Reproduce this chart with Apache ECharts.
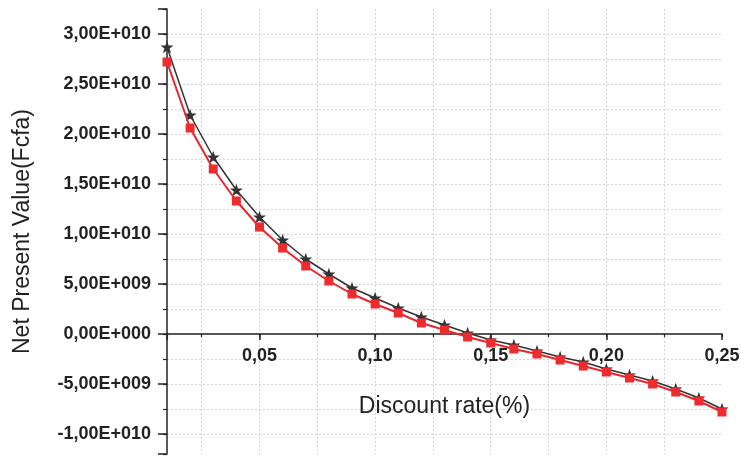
<!DOCTYPE html>
<html>
<head>
<meta charset="utf-8">
<script src="https://cdn.jsdelivr.net/npm/echarts@6/dist/echarts.min.js"></script>
<style>
html,body{margin:0;padding:0;background:#fff;}
#chart{width:741px;height:459px;}
</style>
</head>
<body>
<div id="chart"></div>
<script>
// Discount rates (x)
var discountRates = [0.01,0.02,0.03,0.04,0.05,0.06,0.07,0.08,0.09,0.10,0.11,0.12,0.13,0.14,0.15,0.16,0.17,0.18,0.19,0.20,0.21,0.22,0.23,0.24,0.25];
// Series 1 (dark, star markers)
var npvStar = [2.87e10,2.19e10,1.77e10,1.44e10,1.17e10,0.94e10,0.75e10,0.60e10,0.46e10,0.36e10,0.26e10,0.17e10,0.09e10,0.01e10,-0.06e10,-0.11e10,-0.17e10,-0.23e10,-0.28e10,-0.35e10,-0.41e10,-0.47e10,-0.55e10,-0.64e10,-0.75e10];
// Series 2 (red, square markers)
var npvSquare = [2.72e10,2.06e10,1.65e10,1.33e10,1.07e10,0.86e10,0.68e10,0.53e10,0.40e10,0.30e10,0.21e10,0.11e10,0.04e10,-0.03e10,-0.09e10,-0.15e10,-0.20e10,-0.26e10,-0.32e10,-0.38e10,-0.44e10,-0.50e10,-0.58e10,-0.67e10,-0.78e10];
// Axis settings
var xMin = 0.01, xMax = 0.25, xMajor = 0.05, xMinor = 0.025;
var yMin = -1.2e10, yMax = 3.25e10, yMajor = 5e9, yMinor = 2.5e9;
var xTitle = 'Discount rate(%)';
var yTitle = 'Net Present Value(Fcfa)';

function isMultiple(v, step) {
  var r = v / step;
  return Math.abs(r - Math.round(r)) < 1e-6;
}
function fmtX(v) {
  if (!isMultiple(v, xMajor)) return '';
  return v.toFixed(2).replace('.', ',');
}
function fmtY(v) {
  if (!isMultiple(v, yMajor)) return '';
  if (Math.abs(v) < 1) return '0,00E+000';
  var sign = v < 0 ? '-' : '';
  var a = Math.abs(v);
  var e = Math.floor(Math.log10(a) + 1e-9);
  var m = a / Math.pow(10, e);
  var es = String(e);
  while (es.length < 3) es = '0' + es;
  return sign + m.toFixed(2).replace('.', ',') + 'E+' + es;
}

var starPath = 'path://M50 0 L61.76 33.82 L97.55 34.55 L69.02 56.18 L79.39 90.45 L50 70 L20.61 90.45 L30.98 56.18 L2.45 34.55 L38.24 33.82 Z';

var starData = discountRates.map(function (x, i) { return [x, npvStar[i]]; });
var squareData = discountRates.map(function (x, i) { return [x, npvSquare[i]]; });

var FONT = '"Liberation Sans", Arial, sans-serif';
var INK = '#222';

var chart = echarts.init(document.getElementById('chart'), null, {renderer: 'canvas'});
var opt = {
  animation: false,
  backgroundColor: '#fff',
  grid: [
    // main plotting area
    {left: 167, right: 19, top: 9, bottom: 5, containLabel: false, outerBoundsMode: 'none'},
    // helper grid whose bottom edge sits on the zero line, carries the x axis
    {left: 167, right: 19, top: 9, bottom: 125, containLabel: false, outerBoundsMode: 'none'}
  ],
  xAxis: [{
    gridIndex: 0, type: 'value', min: xMin, max: xMax, minInterval: xMajor, maxInterval: xMajor,
    axisLine: {show: false}, axisTick: {show: false}, axisLabel: {show: false},
    splitLine: {show: true, showMinLine: false, showMaxLine: false, lineStyle: {color: '#b0b0b0', type: [2, 2], width: 1}}
  }, {
    gridIndex: 0, type: 'value', min: xMin, max: xMax, minInterval: xMinor, maxInterval: xMinor,
    axisLine: {show: false}, axisTick: {show: false}, axisLabel: {show: false},
    splitLine: {show: true, showMinLine: false, showMaxLine: false, lineStyle: {color: '#d4d4d4', type: [2, 2], width: 1}}
  }, {
    gridIndex: 1, type: 'value', min: xMin, max: xMax, minInterval: xMajor, maxInterval: xMajor,
    position: 'bottom',
    axisLine: {show: true, onZero: false, lineStyle: {color: INK, width: 1.5}},
    axisTick: {show: true, inside: false, length: 6, lineStyle: {color: INK, width: 1.5}},
    axisLabel: {show: true, margin: 13, formatter: fmtX, fontFamily: FONT, fontWeight: 'bold', fontSize: 18, color: INK},
    splitLine: {show: false},
    name: xTitle, nameLocation: 'middle', nameGap: 61,
    nameTextStyle: {fontFamily: FONT, fontSize: 23, color: INK}
  }, {
    gridIndex: 1, type: 'value', min: xMin, max: xMax, minInterval: xMinor, maxInterval: xMinor,
    position: 'bottom',
    axisLine: {show: false, onZero: false},
    axisTick: {show: true, inside: false, length: 3, lineStyle: {color: INK, width: 1.2}},
    axisLabel: {show: false},
    splitLine: {show: false}
  }],
  yAxis: [{
    gridIndex: 0, type: 'value', min: yMin, max: yMax, minInterval: yMajor, maxInterval: yMajor,
    position: 'left',
    axisLine: {show: true, onZero: false, lineStyle: {color: INK, width: 1.5}},
    axisTick: {show: true, inside: false, length: 9, lineStyle: {color: INK, width: 1.5}},
    axisLabel: {show: true, margin: 16, formatter: fmtY, fontFamily: FONT, fontWeight: 'bold', fontSize: 18, color: INK},
    splitLine: {show: true, showMinLine: false, showMaxLine: false, lineStyle: {color: '#b0b0b0', type: [2, 2], width: 1}},
    name: yTitle, nameLocation: 'middle', nameGap: 133, nameRotate: 90,
    nameTextStyle: {fontFamily: FONT, fontSize: 23, color: INK}
  }, {
    gridIndex: 0, type: 'value', min: yMin, max: yMax, minInterval: yMinor, maxInterval: yMinor,
    position: 'left',
    axisLine: {show: false, onZero: false},
    axisTick: {show: true, inside: false, length: 4, lineStyle: {color: INK, width: 1.2}},
    axisLabel: {show: false},
    splitLine: {show: true, showMinLine: false, showMaxLine: false, lineStyle: {color: '#d4d4d4', type: [2, 2], width: 1}}
  }, {
    gridIndex: 1, type: 'value', min: 0, max: 1, show: false
  }],
  series: [{
    type: 'line', xAxisIndex: 0, yAxisIndex: 0, data: starData,
    symbol: starPath, symbolSize: 13, symbolKeepAspect: true,
    lineStyle: {color: '#333', width: 1.5},
    itemStyle: {color: '#333', borderWidth: 0},
    z: 3
  }, {
    type: 'line', xAxisIndex: 0, yAxisIndex: 0, data: squareData,
    symbol: 'rect', symbolSize: 9,
    lineStyle: {color: '#e8262c', width: 2},
    itemStyle: {color: '#ee2b2e', borderWidth: 0},
    z: 4
  }]
};
chart.setOption(opt);
</script>
</body>
</html>
